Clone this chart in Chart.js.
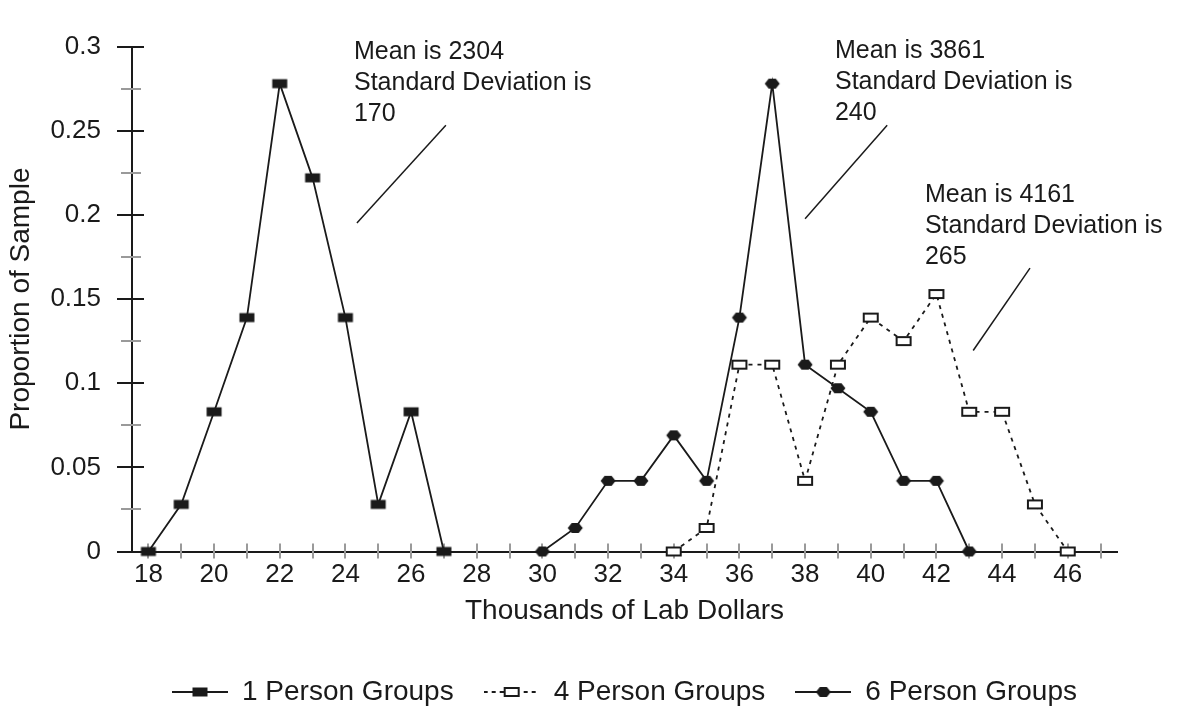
<!DOCTYPE html>
<html lang="en">
<head>
<meta charset="UTF-8">
<title>Proportion of Sample by Group Size</title>
<script src="https://cdn.jsdelivr.net/npm/chart.js"></script>
<style>
  html, body { margin: 0; padding: 0; background: #fff; }
</style>
</head>
<body>
<canvas id="chart" width="1178" height="709"></canvas>
<script>
  // values (proportion of sample per thousand lab dollars)
  const onePersonX = [18, 19, 20, 21, 22, 23, 24, 25, 26, 27];
  const onePersonY = [0, 0.028, 0.083, 0.139, 0.278, 0.222, 0.139, 0.028, 0.083, 0];
  const fourPersonX = [34, 35, 36, 37, 38, 39, 40, 41, 42, 43, 44, 45, 46];
  const fourPersonY = [0, 0.014, 0.111, 0.111, 0.042, 0.111, 0.139, 0.125, 0.153, 0.083, 0.083, 0.028, 0];
  const sixPersonX = [30, 31, 32, 33, 34, 35, 36, 37, 38, 39, 40, 41, 42, 43];
  const sixPersonY = [0, 0.014, 0.042, 0.042, 0.069, 0.042, 0.139, 0.278, 0.111, 0.097, 0.083, 0.042, 0.042, 0];
  const seriesNames = ['1 Person Groups', '4 Person Groups', '6 Person Groups'];

  const xTickValues = [18, 19, 20, 21, 22, 23, 24, 25, 26, 27, 28, 29, 30, 31, 32, 33, 34, 35, 36, 37, 38, 39, 40, 41, 42, 43, 44, 45, 46, 47];
  const xTickLabels = ['18', '', '20', '', '22', '', '24', '', '26', '', '28', '', '30', '', '32', '', '34', '', '36', '', '38', '', '40', '', '42', '', '44', '', '46', ''];
  const yTickValues = [0, 0.05, 0.1, 0.15, 0.2, 0.25, 0.3];
  const yTickLabels = ['0', '0.05', '0.1', '0.15', '0.2', '0.25', '0.3'];
  const yMinorTicks = [0.025, 0.075, 0.125, 0.175, 0.225, 0.275];

  const noteLines = [
    ['Mean is 2304', 'Standard Deviation is', '170'],
    ['Mean is 3861', 'Standard Deviation is', '240'],
    ['Mean is 4161', 'Standard Deviation is', '265']
  ];
  // text anchor and leader line ends, in data units
  const noteAt = [[24.26, 0.2926], [38.91, 0.2932], [41.65, 0.2077]];
  const leaderFrom = [[27.06, 0.2533], [40.50, 0.2533], [44.85, 0.1684]];
  const leaderTo = [[24.35, 0.1952], [38.0, 0.1977], [43.12, 0.1194]];

  const FONT = '"Liberation Sans", Arial, sans-serif';
  const INK = '#1a1a1a';

  function drawShape(c, kind, cx, cy) {
    c.fillStyle = INK;
    c.strokeStyle = INK;
    if (kind === 'filledRect') {
      c.fillRect(cx - 7.5, cy - 4.5, 15, 9);
    } else if (kind === 'openRect') {
      c.fillStyle = '#fff';
      c.fillRect(cx - 7, cy - 4, 14, 8);
      c.lineWidth = 2;
      c.setLineDash([]);
      c.strokeRect(cx - 7, cy - 4, 14, 8);
    } else {
      c.beginPath();
      c.moveTo(cx - 7.5, cy);
      c.lineTo(cx - 3.5, cy - 5);
      c.lineTo(cx + 3.5, cy - 5);
      c.lineTo(cx + 7.5, cy);
      c.lineTo(cx + 3.5, cy + 5);
      c.lineTo(cx - 3.5, cy + 5);
      c.closePath();
      c.fill();
    }
  }

  function marker(kind) {
    const cv = document.createElement('canvas');
    cv.width = 18; cv.height = 12;
    drawShape(cv.getContext('2d'), kind, 9, 6);
    return cv;
  }

  function legendIcon(kind, dashed) {
    const cv = document.createElement('canvas');
    cv.width = 56; cv.height = 14;
    const c = cv.getContext('2d');
    c.strokeStyle = INK;
    c.lineWidth = 2;
    c.setLineDash(dashed ? [4, 4] : []);
    c.beginPath();
    c.moveTo(0, 7);
    c.lineTo(56, 7);
    c.stroke();
    drawShape(c, kind, 28, 7);
    return cv;
  }

  const kinds = ['filledRect', 'openRect', 'diamond'];
  const icons = [legendIcon('filledRect', false), legendIcon('openRect', true), legendIcon('diamond', false)];

  function pairs(xs, ys) {
    return xs.map((x, i) => ({ x: x, y: ys[i] }));
  }

  // tick marks that cross the axis lines, like the original
  const tickMarks = {
    id: 'tickMarks',
    beforeDatasetsDraw(chart) {
      const { ctx, chartArea, scales } = chart;
      const x = scales.x, y = scales.y;
      ctx.save();
      ctx.lineWidth = 2;
      ctx.strokeStyle = '#9a9a9a';
      xTickValues.forEach(v => {
        const px = Math.round(x.getPixelForValue(v));
        ctx.beginPath();
        ctx.moveTo(px, chartArea.bottom - 8);
        ctx.lineTo(px, chartArea.bottom + 7);
        ctx.stroke();
      });
      yMinorTicks.forEach(v => {
        const py = Math.round(y.getPixelForValue(v));
        ctx.beginPath();
        ctx.moveTo(chartArea.left - 11, py);
        ctx.lineTo(chartArea.left + 9, py);
        ctx.stroke();
      });
      ctx.strokeStyle = INK;
      yTickValues.forEach(v => {
        const py = Math.round(y.getPixelForValue(v));
        ctx.beginPath();
        ctx.moveTo(chartArea.left - 15, py);
        ctx.lineTo(chartArea.left + 12, py);
        ctx.stroke();
      });
      ctx.restore();
    }
  };

  // mean / standard deviation notes with their leader lines
  const notes = {
    id: 'notes',
    afterDatasetsDraw(chart) {
      const { ctx, scales } = chart;
      const x = scales.x, y = scales.y;
      ctx.save();
      ctx.fillStyle = INK;
      ctx.strokeStyle = INK;
      ctx.lineWidth = 1.5;
      ctx.font = '25px ' + FONT;
      ctx.textAlign = 'left';
      ctx.textBaseline = 'alphabetic';
      noteLines.forEach((lines, i) => {
        const tx = x.getPixelForValue(noteAt[i][0]);
        const ty = y.getPixelForValue(noteAt[i][1]);
        lines.forEach((t, j) => ctx.fillText(t, tx, ty + j * 31));
        ctx.beginPath();
        ctx.moveTo(x.getPixelForValue(leaderFrom[i][0]), y.getPixelForValue(leaderFrom[i][1]));
        ctx.lineTo(x.getPixelForValue(leaderTo[i][0]), y.getPixelForValue(leaderTo[i][1]));
        ctx.stroke();
      });
      ctx.restore();
    }
  };

  const datasets = [
    { data: pairs(onePersonX, onePersonY), borderDash: [] },
    { data: pairs(fourPersonX, fourPersonY), borderDash: [4, 5] },
    { data: pairs(sixPersonX, sixPersonY), borderDash: [] }
  ].map((d, i) => ({
    label: seriesNames[i],
    data: d.data,
    showLine: true,
    borderColor: INK,
    backgroundColor: INK,
    borderWidth: 1.8,
    borderDash: d.borderDash,
    pointStyle: marker(kinds[i]),
    pointRadius: 8,
    clip: false,
    tension: 0
  }));

  new Chart(document.getElementById('chart'), {
    type: 'scatter',
    data: { datasets: datasets },
    options: {
      responsive: false,
      animation: false,
      events: [],
      layout: { padding: { left: 0, right: 61, top: 25, bottom: -7 } },
      plugins: {
        tooltip: { enabled: false },
        legend: {
          position: 'bottom',
          fullSize: false,
          labels: {
            usePointStyle: true,
            pointStyleWidth: 56,
            padding: 30,
            color: INK,
            font: { family: FONT, size: 28 },
            generateLabels(chart) {
              return Chart.defaults.plugins.legend.labels.generateLabels(chart)
                .map((item, i) => Object.assign(item, { pointStyle: icons[i] }));
            }
          }
        }
      },
      scales: {
        x: {
          type: 'linear',
          min: 17.5,
          max: 47.5,
          grid: { display: false, drawTicks: false },
          border: { display: true, color: INK, width: 2 },
          afterBuildTicks(scale) {
            scale.ticks = xTickValues.map(v => ({ value: v }));
          },
          afterFit(scale) {
            scale.height = 96.5;
          },
          ticks: {
            autoSkip: false,
            maxRotation: 0,
            padding: 8,
            color: INK,
            font: { family: FONT, size: 26 },
            callback: (v) => xTickLabels[xTickValues.indexOf(v)] || ''
          },
          title: {
            display: true,
            text: 'Thousands of Lab Dollars',
            color: INK,
            font: { family: FONT, size: 28 },
            padding: { top: 4, bottom: 20 }
          }
        },
        y: {
          type: 'linear',
          min: 0,
          max: 0.3,
          grid: { display: false, drawTicks: false },
          border: { display: true, color: INK, width: 2 },
          afterBuildTicks(scale) {
            scale.ticks = yTickValues.map(v => ({ value: v }));
          },
          afterFit(scale) {
            scale.width = 132;
          },
          ticks: {
            padding: 31,
            color: INK,
            font: { family: FONT, size: 26 },
            callback: (v) => yTickLabels[yTickValues.indexOf(v)]
          },
          title: {
            display: true,
            text: 'Proportion of Sample',
            color: INK,
            font: { family: FONT, size: 28 },
            padding: { top: 4, bottom: 4 }
          }
        }
      }
    },
    plugins: [tickMarks, notes]
  });
</script>
</body>
</html>
